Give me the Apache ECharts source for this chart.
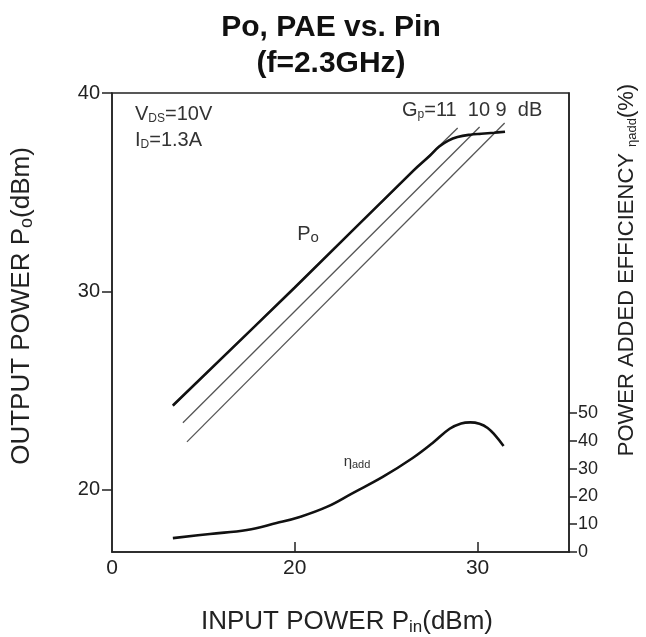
<!DOCTYPE html>
<html>
<head>
<meta charset="utf-8">
<title>Po, PAE vs. Pin</title>
<script src="https://cdn.jsdelivr.net/npm/echarts@6/dist/echarts.min.js"></script>
<style>
  html, body { margin: 0; padding: 0; background: #fff; }
  #chart { width: 646px; height: 637px; }
</style>
</head>
<body>
<div id="chart"></div>
<script>
// values
const xLabelValues = [10, 20, 30];   // left edge of the plot is printed as "0"
const xTickValues = [20, 30];
const yLeftTicks = [20, 30, 40];
const yRightTicks = [0, 10, 20, 30, 40, 50];

// Po (dBm) vs Pin (dBm)
const poCurve = [
  [13.33, 24.25], [20.0, 30.2], [26.5, 36.1], [27.4, 36.85], [27.9, 37.3],
  [28.4, 37.6], [28.9, 37.78], [29.6, 37.9], [30.2, 37.95], [30.9, 38.0], [31.5, 38.05]
];
// constant gain guide lines
const gain11 = [[13.33, 24.23], [28.91, 38.24]];
const gain10 = [[13.88, 23.38], [30.11, 38.29]];
const gain9 = [[14.10, 22.42], [31.48, 38.49]];

// power added efficiency (%) vs Pin (dBm)
const paeCurve = [
  [13.33, 5.0], [15.36, 6.5], [17.38, 7.9], [19.0, 10.4], [20.27, 12.6],
  [21.75, 16.2], [23.17, 21.2], [24.81, 27.0], [26.45, 33.8], [27.54, 39.2],
  [28.47, 44.3], [29.1, 46.2], [29.6, 46.6], [30.1, 46.1], [30.55, 44.6], [30.95, 42.0], [31.42, 38.1]
];

const FONT = "'Liberation Sans', Arial, sans-serif";
const chart = echarts.init(document.getElementById("chart"));

const guideLine = (data) => ({
  type: "line",
  data: data,
  showSymbol: false,
  lineStyle: { color: "#555", width: 1.3 },
  silent: true,
  z: 2,
});

const option = {
  backgroundColor: "#fff",
  animation: false,
  grid: {
    left: 112,
    right: 77,
    top: 93,
    bottom: 85,
    show: true,
    borderColor: "#222",
    borderWidth: 1.5,
  },
  xAxis: {
    type: "value",
    min: 10,
    max: 35,
    splitLine: { show: false },
    axisLine: { lineStyle: { color: "#222", width: 1.5 } },
    axisTick: {
      inside: true,
      length: 10,
      customValues: xTickValues,
      lineStyle: { color: "#222", width: 1.5 },
    },
    axisLabel: {
      customValues: xLabelValues,
      formatter: (v) => (v === 10 ? "0" : String(v)),
      fontSize: 21,
      fontFamily: FONT,
      color: "#222",
      margin: 6,
    },
  },
  yAxis: [
    {
      type: "value",
      min: 16.87,
      max: 40,
      position: "left",
      splitLine: { show: false },
      axisLine: { show: true, lineStyle: { color: "#222", width: 1.5 } },
      axisTick: {
        show: true,
        length: 10,
        customValues: yLeftTicks,
        lineStyle: { color: "#222", width: 1.5 },
      },
      axisLabel: {
        customValues: yLeftTicks,
        fontSize: 20,
        fontFamily: FONT,
        color: "#222",
        margin: 12,
      },
    },
    {
      type: "value",
      min: 0,
      max: 165,
      position: "right",
      splitLine: { show: false },
      axisLine: { show: true, lineStyle: { color: "#222", width: 1.5 } },
      axisTick: {
        show: true,
        length: 8,
        customValues: yRightTicks,
        lineStyle: { color: "#222", width: 1.5 },
      },
      axisLabel: {
        customValues: yRightTicks,
        fontSize: 18,
        fontFamily: FONT,
        color: "#222",
        margin: 9,
      },
    },
  ],
  series: [
    guideLine(gain11),
    guideLine(gain10),
    guideLine(gain9),
    {
      name: "Po",
      type: "line",
      data: poCurve,
      smooth: 0.4,
      showSymbol: false,
      lineStyle: { color: "#111", width: 2.6 },
      z: 3,
    },
    {
      name: "PAE",
      type: "line",
      yAxisIndex: 1,
      data: paeCurve,
      smooth: 0.4,
      showSymbol: false,
      lineStyle: { color: "#111", width: 2.6 },
      z: 3,
    },
  ],
  graphic: [
    {
      type: "text",
      x: 331,
      y: 10,
      style: {
        text: "Po, PAE vs. Pin\n(f=2.3GHz)",
        font: "bold 30px " + FONT,
        fill: "#111",
        align: "center",
        verticalAlign: "top",
        lineHeight: 36,
      },
    },
    {
      type: "text",
      x: 135,
      y: 114,
      style: {
        text: "{m|V}{s|DS}{m|=10V}",
        align: "left",
        verticalAlign: "middle",
        rich: {
          m: { fontSize: 20, fontFamily: FONT, fill: "#333", lineHeight: 22 },
          s: { fontSize: 12, fontFamily: FONT, fill: "#333", verticalAlign: "bottom" },
        },
      },
    },
    {
      type: "text",
      x: 135,
      y: 140,
      style: {
        text: "{m|I}{s|D}{m|=1.3A}",
        align: "left",
        verticalAlign: "middle",
        rich: {
          m: { fontSize: 20, fontFamily: FONT, fill: "#333", lineHeight: 22 },
          s: { fontSize: 12, fontFamily: FONT, fill: "#333", verticalAlign: "bottom" },
        },
      },
    },
    {
      type: "text",
      x: 402,
      y: 110,
      style: {
        text: "{m|G}{s|p}{m|=11  10 9  dB}",
        align: "left",
        verticalAlign: "middle",
        rich: {
          m: { fontSize: 20, fontFamily: FONT, fill: "#333", lineHeight: 22 },
          s: { fontSize: 12, fontFamily: FONT, fill: "#333", verticalAlign: "bottom" },
        },
      },
    },
    {
      type: "text",
      x: 308,
      y: 234,
      style: {
        text: "{m|P}{s|o}",
        align: "center",
        verticalAlign: "middle",
        rich: {
          m: { fontSize: 20, fontFamily: FONT, fill: "#333", lineHeight: 22 },
          s: { fontSize: 15, fontFamily: FONT, fill: "#333", verticalAlign: "bottom" },
        },
      },
    },
    {
      type: "text",
      x: 357,
      y: 462,
      style: {
        text: "{m|η}{s|add}",
        align: "center",
        verticalAlign: "middle",
        rich: {
          m: { fontSize: 15, fontFamily: FONT, fill: "#333", lineHeight: 16 },
          s: { fontSize: 11, fontFamily: FONT, fill: "#333", verticalAlign: "bottom" },
        },
      },
    },
    {
      type: "text",
      x: 347,
      y: 622,
      style: {
        text: "{m|INPUT POWER P}{s|in}{m|(dBm)}",
        align: "center",
        verticalAlign: "middle",
        rich: {
          m: { fontSize: 26, fontFamily: FONT, fill: "#222", lineHeight: 28 },
          s: { fontSize: 17, fontFamily: FONT, fill: "#222", verticalAlign: "bottom" },
        },
      },
    },
    {
      type: "text",
      x: 22,
      y: 306,
      rotation: Math.PI / 2,
      style: {
        text: "{m|OUTPUT POWER P}{s|o}{m|(dBm)}",
        align: "center",
        verticalAlign: "middle",
        rich: {
          m: { fontSize: 26, fontFamily: FONT, fill: "#222", lineHeight: 28 },
          s: { fontSize: 18, fontFamily: FONT, fill: "#222", verticalAlign: "bottom" },
        },
      },
    },
    {
      type: "text",
      x: 627,
      y: 270,
      rotation: Math.PI / 2,
      style: {
        text: "{m|POWER ADDED EFFICIENCY }{s|ηadd}{m|(%)}",
        align: "center",
        verticalAlign: "middle",
        rich: {
          m: { fontSize: 22, fontFamily: FONT, fill: "#222", lineHeight: 24 },
          s: { fontSize: 13, fontFamily: FONT, fill: "#222", verticalAlign: "bottom" },
        },
      },
    },
  ],
};

chart.setOption(option);
</script>
</body>
</html>
